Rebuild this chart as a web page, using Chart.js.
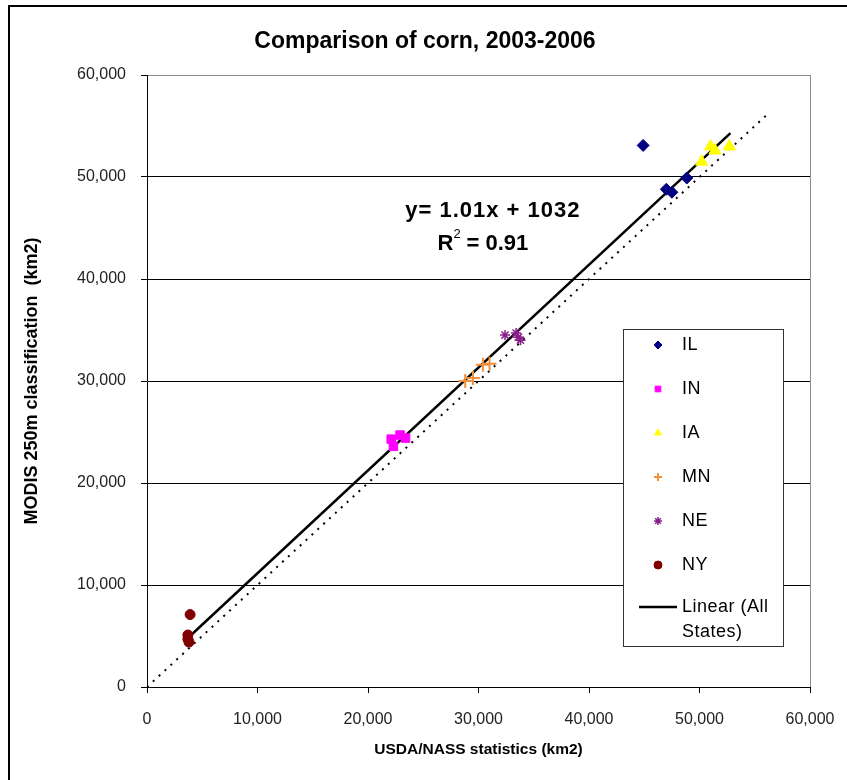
<!DOCTYPE html>
<html>
<head>
<meta charset="utf-8">
<script src="https://cdn.jsdelivr.net/npm/chart.js@4/dist/chart.umd.min.js"></script>
<style>
  body { margin: 0; background: #fff; }
  #frame { position: absolute; left: 8px; top: 5px; width: 860px; height: 800px;
           border-left: 2px solid #000; border-top: 2px solid #000; }
  #graph { position: absolute; left: 0; top: 0; }
</style>
</head>
<body>
<div id="frame"></div>
<canvas id="graph" width="847" height="780"></canvas>
<script>
// values, km2
const ilPoints = [{x: 44900, y: 53100}, {x: 48850, y: 49900}, {x: 47000, y: 48800}, {x: 47500, y: 48500}];
const inPoints = [{x: 22100, y: 24300}, {x: 22300, y: 23600}, {x: 22900, y: 24700}, {x: 23400, y: 24400}];
const iaPoints = [{x: 50200, y: 51500}, {x: 51000, y: 53000}, {x: 51400, y: 52600}, {x: 52700, y: 53000}];
const mnPoints = [{x: 28800, y: 30000}, {x: 29500, y: 30300}, {x: 30400, y: 31600}, {x: 31000, y: 31700}];
const nePoints = [{x: 32400, y: 34500}, {x: 33400, y: 34700}, {x: 33600, y: 34300}, {x: 33800, y: 34000}];
const nyPoints = [{x: 3900, y: 7100}, {x: 3700, y: 5100}, {x: 3700, y: 4700}, {x: 3800, y: 4400}];
const trendLine = [{x: 3700, y: 4800}, {x: 52800, y: 54300}];
const oneToOne = [{x: 0, y: 0}, {x: 56000, y: 56000}];

const axisMin = 0;
const axisMax = 60000;
const axisStep = 10000;
const titleText = "Comparison of corn, 2003-2006";
const equationText = "y= 1.01x + 1032";
const r2Text = " = 0.91";
const FONT = "'Liberation Sans', Arial, sans-serif";

const legendItems = ["IL", "IN", "IA", "MN", "NE", "NY"];

const pointSet = (label, data, style, color, radius, border) => ({
    label: label,
    data: data,
    showLine: false,
    pointStyle: style,
    pointRadius: radius,
    pointBackgroundColor: color,
    pointBorderColor: color,
    pointBorderWidth: border,
    order: 1
});

const datasets = [
    pointSet("IL", ilPoints, "rectRot", "#000080", 6, 1),
    pointSet("IN", inPoints, "rect", "#ff00ff", 6, 1),
    pointSet("IA", iaPoints, "triangle", "#ffff00", 7, 1),
    pointSet("MN", mnPoints, "cross", "#f0903c", 7, 2),
    pointSet("NE", nePoints, "star", "#8a1f8a", 5, 1.5),
    pointSet("NY", nyPoints, "circle", "#800000", 5, 1),
    {
        label: "Linear (All States)",
        data: trendLine,
        showLine: true,
        borderColor: "#000",
        borderWidth: 2.5,
        pointRadius: 0,
        order: 2
    },
    {
        label: "1:1",
        data: oneToOne,
        showLine: true,
        borderColor: "#000",
        borderWidth: 2,
        borderDash: [2, 6],
        pointRadius: 0,
        order: 3
    }
];

// title, boxed legend and the regression label
const extras = {
    id: "extras",
    afterDraw(chart) {
        const ctx = chart.ctx;
        const xs = chart.scales.x, ys = chart.scales.y;
        ctx.save();
        ctx.fillStyle = "#000";
        ctx.textBaseline = "middle";

        ctx.font = "bold 23px " + FONT;
        ctx.textAlign = "center";
        ctx.fillText(titleText, 425, 42);

        // equation
        ctx.font = "bold 22px " + FONT;
        ctx.letterSpacing = "1px";
        ctx.fillText(equationText, xs.getPixelForValue(31300), ys.getPixelForValue(46700));
        ctx.letterSpacing = "0px";
        const rx = xs.getPixelForValue(30400), ry = ys.getPixelForValue(43400);
        const wR = ctx.measureText("R").width;
        const wRest = ctx.measureText(r2Text).width;
        ctx.textAlign = "left";
        const start = rx - (wR + 7 + wRest) / 2;
        ctx.fillText("R", start, ry);
        ctx.font = "13px " + FONT;
        ctx.fillText("2", start + wR, ry - 10);
        ctx.font = "bold 22px " + FONT;
        ctx.fillText(r2Text, start + wR + 7, ry);

        // legend box
        const bx = 623, by = 329, bw = 160, bh = 317;
        ctx.fillStyle = "#fff";
        ctx.fillRect(bx, by, bw, bh);
        ctx.strokeStyle = "#333";
        ctx.lineWidth = 1;
        ctx.strokeRect(bx + 0.5, by + 0.5, bw, bh);

        ctx.font = "18px " + FONT;
        ctx.letterSpacing = "0.5px";
        legendItems.forEach((name, i) => {
            const ds = chart.data.datasets[i];
            const yy = by + 16 + i * 44;
            ctx.fillStyle = ds.pointBackgroundColor;
            ctx.strokeStyle = ds.pointBorderColor;
            ctx.lineWidth = ds.pointBorderWidth;
            Chart.helpers.drawPoint(ctx, {pointStyle: ds.pointStyle, radius: 4, rotation: 0, borderWidth: ds.pointBorderWidth}, 658, yy);
            ctx.fillStyle = "#000";
            ctx.fillText(name, 682, yy);
        });
        ctx.strokeStyle = "#000";
        ctx.lineWidth = 2.5;
        ctx.beginPath();
        ctx.moveTo(639, 607);
        ctx.lineTo(677, 607);
        ctx.stroke();
        ctx.fillText("Linear (All", 682, 607);
        ctx.fillText("States)", 682, 632);

        ctx.restore();
    }
};

const tickFont = { family: FONT, size: 16 };

new Chart(document.getElementById("graph").getContext("2d"), {
    type: "scatter",
    data: { datasets: datasets },
    options: {
        responsive: false,
        animation: false,
        layout: { padding: { top: 75, right: 37, bottom: 0, left: 0 } },
        plugins: {
            legend: { display: false },
            tooltip: { enabled: false }
        },
        scales: {
            x: {
                type: "linear",
                min: axisMin, max: axisMax,
                afterFit: (scale) => {
                    scale.height = 93;
                    scale.paddingLeft = 0;
                    scale.paddingRight = 0;
                },
                ticks: {
                    stepSize: axisStep,
                    color: "#222",
                    padding: 17,
                    maxRotation: 0,
                    font: tickFont,
                    callback: (v) => v.toLocaleString("en-US")
                },
                grid: {
                    drawOnChartArea: true,
                    color: (c) => c.tick && c.tick.value === axisMax ? "#8c8c8c" : "rgba(0,0,0,0)",
                    tickColor: "#000",
                    tickLength: 6
                },
                border: { color: "#000", width: 1 },
                title: {
                    display: true,
                    text: "USDA/NASS statistics (km2)",
                    color: "#000",
                    font: { family: FONT, size: 15.5, weight: "bold" },
                    padding: { top: 0, bottom: 21 }
                }
            },
            y: {
                type: "linear",
                min: axisMin, max: axisMax,
                afterFit: (scale) => {
                    scale.width = 147;
                    scale.paddingTop = 0;
                    scale.paddingBottom = 0;
                },
                ticks: {
                    stepSize: axisStep,
                    color: "#222",
                    padding: 15,
                    font: tickFont,
                    callback: (v) => v.toLocaleString("en-US")
                },
                grid: {
                    color: (c) => c.tick && c.tick.value === axisMax ? "#8c8c8c" : "#000",
                    tickColor: "#000",
                    tickLength: 6
                },
                border: { color: "#000", width: 1 },
                title: {
                    display: true,
                    text: "MODIS 250m classification  (km2)",
                    color: "#000",
                    font: { family: FONT, size: 18, weight: "bold" },
                    padding: { top: 21, bottom: 0 }
                }
            }
        }
    },
    plugins: [extras]
});
</script>
</body>
</html>
